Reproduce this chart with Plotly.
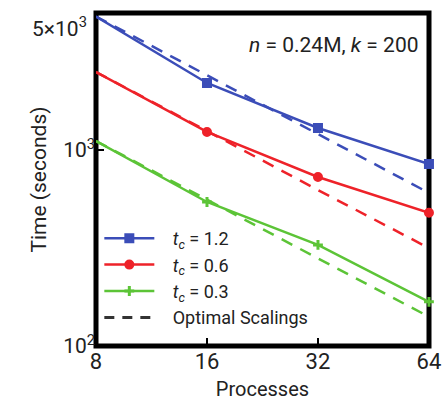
import plotly.graph_objects as go
import math

processes = [8, 16, 32, 64]
time_tc12 = [4800, 2198, 1295, 849]
time_tc06 = [2500, 1236, 728, 478]
time_tc03 = [1111, 543, 328, 168]
opt_tc12 = [4800, 2400, 1200, 604]
opt_tc06 = [2500, 1250, 625, 316]
opt_tc03 = [1111, 556, 280, 141]

series_names = ["<i>t<sub>c</sub></i> = 1.2", "<i>t<sub>c</sub></i> = 0.6", "<i>t<sub>c</sub></i> = 0.3"]
colors = ["#3B4DB8", "#EE2229", "#5CC437"]
symbols = ["square", "circle", "cross-thin"]

x_ticks = [8, 16, 32, 64]
y_tickvals = [100, 1000, 5000]
y_ticktext = ["10<sup>2</sup>", "10<sup>3</sup>", ""]
top_label = "5×10<sup>3</sup>"

FONT = "Roboto, Arial, sans-serif"

fig = go.Figure()
for opt, col in zip([opt_tc12, opt_tc06, opt_tc03], colors):
    fig.add_trace(go.Scatter(x=processes, y=opt, mode="lines", showlegend=False,
                             line=dict(color=col, width=2.5, dash="12px,9px")))
for vals, name, col, sym in zip([time_tc12, time_tc06, time_tc03], series_names, colors, symbols):
    fig.add_trace(go.Scatter(x=processes, y=vals, mode="lines+markers", name="&nbsp;&nbsp;&nbsp;" + name,
                             line=dict(color=col, width=2.5),
                             marker=dict(symbol=sym, size=7, color=col,
                                         line=dict(color=col, width=3)),
                             cliponaxis=False))
fig.add_trace(go.Scatter(x=[None], y=[None], mode="lines", name="&nbsp;&nbsp;&nbsp;Optimal Scalings",
                         line=dict(color="#333333", width=3, dash="10px,8px")))

fig.update_layout(
    width=442, height=410, autosize=False,
    margin=dict(l=96, r=13, t=13, b=64),
    paper_bgcolor="white", plot_bgcolor="white",
    font=dict(family=FONT, size=18, color="#222"),
    legend=dict(x=0.01, y=0.03, xanchor="left", yanchor="bottom",
                bgcolor="rgba(0,0,0,0)", font=dict(size=18, family=FONT),
                tracegroupgap=0, itemwidth=50),
    shapes=[dict(type="rect", xref="paper", yref="paper", x0=0, x1=1, y0=0, y1=1,
                 line=dict(color="black", width=5), layer="below")],
    annotations=[
        dict(xref="paper", yref="paper", x=0.975, y=0.905, xanchor="right", yanchor="middle",
             text="<i>n</i> = 0.24M, <i>k</i> = 200", showarrow=False,
             font=dict(size=21, family=FONT, color="#222")),
        dict(xref="paper", yref="y", x=0, y=math.log10(5000), xanchor="right", yanchor="middle",
             xshift=-7, yshift=-14, text=top_label, showarrow=False,
             font=dict(size=21, family=FONT, color="#222")),
    ],
)
fig.update_xaxes(type="log", range=[math.log10(8), 1.8063], tickvals=x_ticks, ticktext=[str(v) for v in x_ticks],
                 showline=False, automargin=False, ticklabeloverflow="allow",
                 ticks="inside", ticklen=8, tickwidth=2, tickcolor="black",
                 showgrid=False, zeroline=False, tickfont=dict(size=22, family=FONT),
                 title=dict(text="Processes", font=dict(size=20, family=FONT), standoff=8))
fig.update_yaxes(type="log", range=[2, 3.699], tickvals=y_tickvals, ticktext=y_ticktext,
                 showline=False, automargin=False, ticklabeloverflow="allow",
                 ticks="inside", ticklen=8, tickwidth=2, tickcolor="black",
                 showgrid=False, zeroline=False, tickfont=dict(size=21, family=FONT),
                 title=dict(text="Time (seconds)", font=dict(size=21, family=FONT), standoff=10))

fig.write_html("out.html", config={"displayModeBar": False, "responsive": False},
               post_script="document.body.style.margin='0';document.documentElement.style.overflow='hidden';document.body.style.overflow='hidden';")
